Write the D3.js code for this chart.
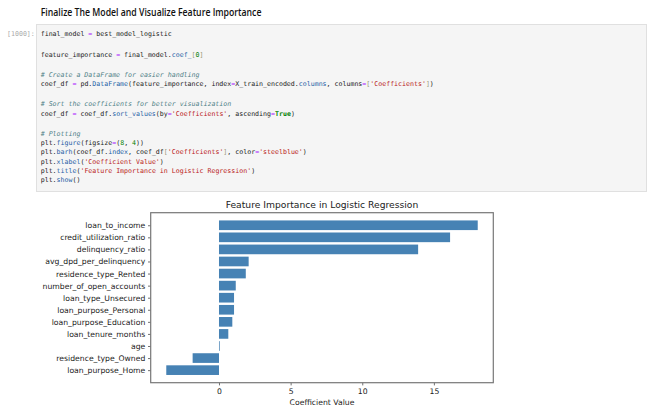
<!DOCTYPE html>
<html>
<head>
<meta charset="utf-8">
<script src="https://cdn.jsdelivr.net/npm/d3@7"></script>
<style>
  body { margin: 0; background: #fff; }
  svg text { white-space: pre; }
</style>
</head>
<body>
<div id="page"></div>
<script>
const width = 650,
      height = 420;

// chart data (sorted ascending, as in coef_df)
const features = [
  'loan_purpose_Home',
  'residence_type_Owned',
  'age',
  'loan_tenure_months',
  'loan_purpose_Education',
  'loan_purpose_Personal',
  'loan_type_Unsecured',
  'number_of_open_accounts',
  'residence_type_Rented',
  'avg_dpd_per_delinquency',
  'delinquency_ratio',
  'credit_utilization_ratio',
  'loan_to_income'
];
const coefficients = [-3.68, -1.84, 0.05, 0.65, 0.93, 1.05, 1.05, 1.17, 1.87, 2.07, 13.9, 16.13, 18.06];
const xTicks = [0, 5, 10, 15];
const chartTitle = 'Feature Importance in Logistic Regression';
const xLabel = 'Coefficient Value';

// code cell, one entry per line, [text, kind]
const codeLines = [
  [['final_model '], ['=', 'op'], [' best_model_logistic']],
  [],
  [['feature_importance '], ['=', 'op'], [' final_model.'], ['coef_', 'prop'], ['[', 'br'], ['0', 'num'], [']', 'br']],
  [],
  [['# Create a DataFrame for easier handling', 'cm']],
  [['coef_df '], ['=', 'op'], [' pd.'], ['DataFrame', 'prop'], ['(feature_importance, index'], ['=', 'op'],
   ['X_train_encoded.'], ['columns', 'prop'], [', columns'], ['=', 'op'], ['[', 'br'], ["'Coefficients'", 'str'], [']', 'br'], [')']],
  [],
  [['# Sort the coefficients for better visualization', 'cm']],
  [['coef_df '], ['=', 'op'], [' coef_df.'], ['sort_values', 'prop'], ['(by'], ['=', 'op'], ["'Coefficients'", 'str'],
   [', ascending'], ['=', 'op'], ['True', 'kw'], [')']],
  [],
  [['# Plotting', 'cm']],
  [['plt.'], ['figure', 'prop'], ['(figsize'], ['=', 'op'], ['('], ['8', 'num'], [', '], ['4', 'num'], ['))']],
  [['plt.'], ['barh', 'prop'], ['(coef_df.'], ['index', 'prop'], [', coef_df'], ['[', 'br'], ["'Coefficients'", 'str'], [']', 'br'],
   [', color'], ['=', 'op'], ["'steelblue'", 'str'], [')']],
  [['plt.'], ['xlabel', 'prop'], ['('], ["'Coefficient Value'", 'str'], [')']],
  [['plt.'], ['title', 'prop'], ['('], ["'" + 'Feature Importance in Logistic Regression' + "'", 'str'], [')']],
  [['plt.'], ['show', 'prop'], ['()']]
];

const tokenColor = {
  op: '#aa22ff', prop: '#1f5fa6', str: '#ba2121', num: '#008000',
  kw: '#008000', cm: '#4f7f86', br: '#999977'
};

const svg = d3.select('#page').append('svg')
  .attr('width', width)
  .attr('height', height);

// heading: keep its height, squeeze it to the width it has in the notebook
const heading = svg.append('text')
  .attr('x', 0).attr('y', 0)
  .attr('font-family', 'Open Sans, sans-serif')
  .attr('font-weight', 600)
  .attr('font-size', '10.4px')
  .attr('fill', '#111')
  .text('Finalize The Model and Visualize Feature Importance');
const hw = heading.node().getComputedTextLength();
heading.attr('transform', `translate(40.7,16) scale(${(221 / hw).toFixed(3)},1)`);

// code cell box
svg.append('rect')
  .attr('x', 36.5).attr('y', 24.5)
  .attr('width', 610).attr('height', 167)
  .attr('fill', '#f5f5f5')
  .attr('stroke', '#e0e0e0');

svg.append('text')
  .attr('x', 7).attr('y', 36.3)
  .attr('font-family', 'DejaVu Sans Mono, monospace')
  .attr('font-size', '6.6px')
  .attr('fill', '#aaa')
  .text('[1000]:');

let lineY = 36.3;
codeLines.forEach(line => {
  if (line.length === 0) { lineY += 11; return; }
  const t = svg.append('text')
    .attr('x', 40.7).attr('y', lineY)
    .attr('font-family', 'DejaVu Sans Mono, monospace')
    .attr('font-size', '6.6px')
    .attr('fill', '#222');
  line.forEach(([txt, kind]) => {
    const s = t.append('tspan').text(txt);
    if (kind) s.attr('fill', tokenColor[kind]);
    if (kind === 'cm') s.attr('font-style', 'italic');
    if (kind === 'kw') s.attr('font-weight', 'bold');
  });
  lineY += 9.25;
});

// chart
const margin = {left: 150.7, right: 493.3, top: 212.7, bottom: 382.7};
const xmin = d3.min(coefficients), xmax = d3.max(coefficients);
const pad = (xmax - xmin) * 0.05;

const x = d3.scaleLinear()
  .domain([xmin - pad, xmax + pad])
  .range([margin.left, margin.right]);

const y = d3.scaleLinear()
  .domain([-0.4 - 0.64, features.length - 1 + 0.4 + 0.64])
  .range([margin.bottom, margin.top]);

const chart = svg.append('g');

chart.selectAll('rect.bar')
  .data(features)
  .enter().append('rect')
  .attr('class', 'bar')
  .attr('x', (d, i) => x(Math.min(0, coefficients[i])))
  .attr('width', (d, i) => Math.abs(x(coefficients[i]) - x(0)))
  .attr('y', (d, i) => y(i + 0.4))
  .attr('height', (d, i) => y(i - 0.4) - y(i + 0.4))
  .attr('fill', 'steelblue');

const yAxis = d3.axisLeft(y)
  .tickValues(d3.range(features.length))
  .tickFormat(i => features[i])
  .tickSize(2.7)
  .tickPadding(2.7);

const gy = chart.append('g')
  .attr('transform', `translate(${margin.left},0)`)
  .call(yAxis);

const xAxis = d3.axisBottom(x)
  .tickValues(xTicks)
  .tickFormat(d3.format('d'))
  .tickSize(2.7)
  .tickPadding(2.7);

const gx = chart.append('g')
  .attr('transform', `translate(0,${margin.bottom})`)
  .call(xAxis);

[gx, gy].forEach(g => {
  g.select('.domain').remove();
  g.selectAll('line').attr('stroke', '#333').attr('stroke-width', 0.7);
  g.selectAll('text')
    .attr('font-family', 'DejaVu Sans, sans-serif')
    .attr('font-size', '7.7px')
    .attr('fill', '#222');
});

chart.append('rect')
  .attr('x', margin.left).attr('y', margin.top)
  .attr('width', margin.right - margin.left)
  .attr('height', margin.bottom - margin.top)
  .attr('fill', 'none')
  .attr('stroke', '#777')
  .attr('stroke-width', 1.2);

chart.append('text')
  .attr('x', (margin.left + margin.right) / 2)
  .attr('y', 207.6)
  .attr('text-anchor', 'middle')
  .attr('font-family', 'DejaVu Sans, sans-serif')
  .attr('font-size', '9.2px')
  .attr('fill', '#222')
  .text(chartTitle);

chart.append('text')
  .attr('x', (margin.left + margin.right) / 2)
  .attr('y', 405.2)
  .attr('text-anchor', 'middle')
  .attr('font-family', 'DejaVu Sans, sans-serif')
  .attr('font-size', '7.7px')
  .attr('fill', '#222')
  .text(xLabel);
</script>
</body>
</html>
